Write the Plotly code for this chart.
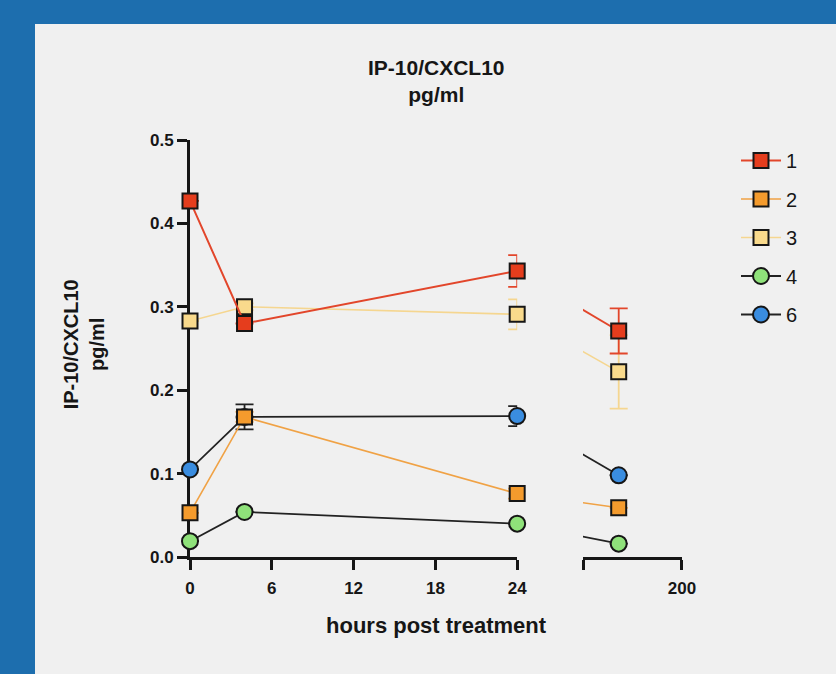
import plotly.graph_objects as go

# ---- data -------------------------------------------------------------
hours = [0, 4, 24]          # early sampling times (h)
late_hour = 168             # last sampling time (h), shown on the broken axis

names = ["1", "2", "3", "4", "6"]

mean_1 = [0.427, 0.280, 0.343]
mean_2 = [0.053, 0.168, 0.076]
mean_3 = [0.283, 0.300, 0.291]
mean_4 = [0.019, 0.054, 0.040]
mean_6 = [0.105, 0.168, 0.169]

late_1, late_2, late_3, late_4, late_6 = 0.271, 0.059, 0.222, 0.016, 0.098

err_1 = [0.0, 0.0, 0.019]
err_2 = [0.0, 0.006, 0.006]
err_3 = [0.0, 0.004, 0.018]
err_4 = [0.0, 0.0, 0.0]
err_6 = [0.0, 0.015, 0.012]

late_err_1, late_err_2, late_err_3, late_err_4, late_err_6 = 0.027, 0.0, 0.044, 0.0, 0.0

y_ticks = [0.0, 0.1, 0.2, 0.3, 0.4, 0.5]
x_ticks = [0, 6, 12, 18, 24]
late_range = [150, 200]

# ---- styling ----------------------------------------------------------
W, H = 836, 674
ML, MR, MT, MB = 190, 154, 140, 117
PW, PH = W - ML - MR, H - MT - MB
DOM1 = [0.0, 0.665]
DOM2 = [0.799, 1.0]

FONT = "Liberation Sans, Arial, sans-serif"
INK = "#161616"

styles = {
    "1": dict(fill="#e53d1d", line="#e2462b", err="#e2462b", symbol="square", lw=2.0, mean=mean_1, err_v=err_1, late=late_1, late_err=late_err_1),
    "2": dict(fill="#f49b2d", line="#f0a245", err="#f0a245", symbol="square", lw=1.6, mean=mean_2, err_v=err_2, late=late_2, late_err=late_err_2),
    "3": dict(fill="#f9da8c", line="#f5d690", err="#f5d690", symbol="square", lw=1.6, mean=mean_3, err_v=err_3, late=late_3, late_err=late_err_3),
    "4": dict(fill="#8fe27a", line="#222222", err="#222222", symbol="circle", lw=1.8, mean=mean_4, err_v=err_4, late=late_4, late_err=late_err_4),
    "6": dict(fill="#3a8de0", line="#222222", err="#222222", symbol="circle", lw=1.8, mean=mean_6, err_v=err_6, late=late_6, late_err=late_err_6),
}

# the connecting line crosses the axis break as one straight stroke:
# express hour 24 in the coordinates of the second x axis
px_per_h2 = PW * (DOM2[1] - DOM2[0]) / (late_range[1] - late_range[0])
gap_px = PW * (DOM2[0] - DOM1[1])
hour24_on_x2 = late_range[0] - gap_px / px_per_h2

fig = go.Figure()

draw_order = ["6", "4", "3", "2", "1"]
for name in draw_order:
    s = styles[name]
    rank = names.index(name) + 1
    marker = dict(symbol=s["symbol"], size=15 if s["symbol"] == "square" else 16,
                  color=s["fill"], line=dict(color=INK, width=2))
    fig.add_trace(go.Scatter(
        x=hours, y=s["mean"], mode="lines+markers", name=name,
        legendgroup=name, legendrank=rank,
        line=dict(color=s["line"], width=s["lw"]),
        marker=marker, cliponaxis=False,
        error_y=dict(type="data", array=s["err_v"], visible=True,
                     color=s["err"], thickness=1.8, width=9),
        xaxis="x", yaxis="y",
    ))
    fig.add_trace(go.Scatter(
        x=[hour24_on_x2, late_hour], y=[s["mean"][-1], s["late"]], mode="lines",
        legendgroup=name, showlegend=False, hoverinfo="skip",
        line=dict(color=s["line"], width=s["lw"]),
        xaxis="x2", yaxis="y",
    ))
    fig.add_trace(go.Scatter(
        x=[late_hour], y=[s["late"]], mode="markers",
        legendgroup=name, showlegend=False,
        marker=marker, cliponaxis=False,
        error_y=dict(type="data", array=[s["late_err"]], visible=True,
                     color=s["err"], thickness=1.8, width=9),
        xaxis="x2", yaxis="y",
    ))

axis_common = dict(
    showline=True, linewidth=3, linecolor=INK, showgrid=False, zeroline=False,
    ticks="outside", ticklen=10, tickwidth=3, tickcolor=INK,
    tickfont=dict(family=FONT, size=17, color=INK, weight="bold"),
    layer="below traces",
)

fig.update_layout(
    width=W, height=H,
    margin=dict(l=ML, r=MR, t=MT, b=MB, autoexpand=False),
    paper_bgcolor="#1d6eae",
    plot_bgcolor="rgba(0,0,0,0)",
    showlegend=True,
    xaxis=dict(domain=DOM1, range=[0, 24], tickvals=x_ticks, anchor="y",
               ticklabelstandoff=4, **axis_common),
    xaxis2=dict(domain=DOM2, range=late_range, tickvals=late_range,
                ticktext=["", "200"], anchor="y", ticklabelstandoff=4, **axis_common),
    yaxis=dict(range=[0, 0.5], tickvals=y_ticks, ticktext=[f"{v:.1f}" for v in y_ticks],
               anchor="x", **axis_common),
    legend=dict(
        x=(736 - ML) / PW, y=1 - (141 - MT) / PH, xanchor="left", yanchor="top",
        traceorder="grouped", tracegroupgap=9.5, itemwidth=40,
        font=dict(family=FONT, size=20, color=INK),
        bgcolor="rgba(0,0,0,0)", borderwidth=0,
    ),
    shapes=[dict(
        type="rect", xref="paper", yref="paper", layer="below",
        x0=(35 - ML) / PW, x1=(W + 10 - ML) / PW,
        y0=-(MB + 10) / PH, y1=1 + (MT - 24) / PH,
        fillcolor="#f0f0f0", line=dict(width=0),
    )],
    annotations=[
        dict(text="IP-10/CXCL10<br>pg/ml", xref="paper", yref="paper",
             x=0.5, y=1 + (MT - 81) / PH, xanchor="center", yanchor="middle",
             showarrow=False, font=dict(family=FONT, size=21, color=INK, weight="bold")),
        dict(text="hours post treatment", xref="paper", yref="paper",
             x=0.5, y=-(625 - (MT + PH)) / PH, xanchor="center", yanchor="middle",
             showarrow=False, font=dict(family=FONT, size=22, color=INK, weight="bold")),
        dict(text="IP-10/CXCL10<br>pg/ml", xref="paper", yref="paper",
             x=(84 - ML) / PW, y=0.51, xanchor="center", yanchor="middle",
             textangle=-90, showarrow=False,
             font=dict(family=FONT, size=20, color=INK, weight="bold")),
    ],
)

fig.write_html("out.html")
